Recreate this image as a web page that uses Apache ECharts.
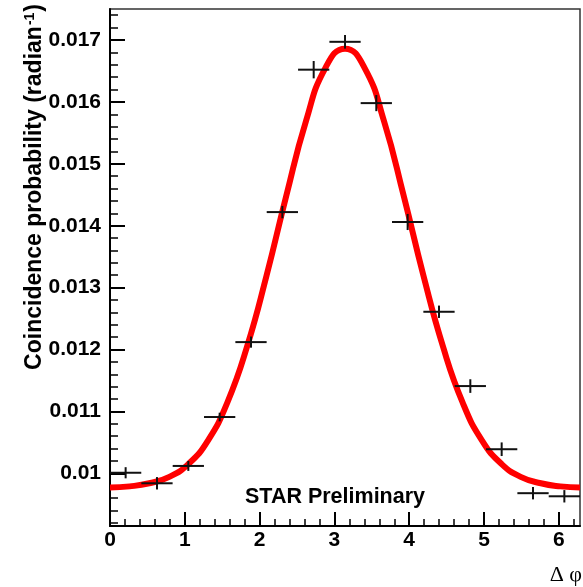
<!DOCTYPE html>
<html>
<head>
<meta charset="utf-8">
<script src="https://cdn.jsdelivr.net/npm/echarts@6/dist/echarts.min.js"></script>
<style>
  html, body { margin: 0; padding: 0; background: #fff; }
  #main { width: 583px; height: 587px; }
</style>
</head>
<body>
<div id="main"></div>
<script>
// bin centres of the measured points (delta phi, rad) and their values
const binCenters = [0.209, 0.628, 1.047, 1.466, 1.885, 2.304, 2.723, 3.142, 3.560, 3.979, 4.398, 4.817, 5.236, 5.655, 6.074];
const binHalfWidth = 0.209;
const probValues = [0.01001, 0.00984, 0.01012, 0.01091, 0.01212, 0.01422, 0.01652, 0.01697, 0.01598, 0.01406, 0.01261, 0.01141, 0.01039, 0.00968, 0.00963];
const probErrors = [0.00009, 0.0001, 0.00008, 0.00007, 0.00009, 0.0001, 0.00014, 0.00011, 0.00013, 0.00013, 0.0001, 0.00011, 0.00011, 0.0001, 0.0001];

// fitted curve, every pi/12
const curveX = [0, 0.262, 0.524, 0.785, 1.047, 1.309, 1.571, 1.833, 2.094, 2.356, 2.618, 2.880, 3.142,
  3.403, 3.665, 3.927, 4.189, 4.451, 4.712, 4.974, 5.236, 5.498, 5.760, 6.021, 6.283];
const curveY = [0.00977, 0.00979, 0.00984, 0.00994, 0.01015, 0.01053, 0.01115, 0.01205, 0.01320, 0.01448, 0.01568, 0.01655, 0.01686,
  0.01655, 0.01568, 0.01448, 0.01320, 0.01205, 0.01115, 0.01053, 0.01015, 0.00994, 0.00984, 0.00979, 0.00977];

// axis ticks
const xMajorTicks = [0, 1, 2, 3, 4, 5, 6];
const yMajorTicks = [0.010, 0.011, 0.012, 0.013, 0.014, 0.015, 0.016, 0.017];
const xMin = 0, xMax = 2 * Math.PI;
const yMin = 0.00915, yMax = 0.0175;

const xMinorTicks = [];
for (let i = 1; i <= 31; i++) {
  if (i % 5 !== 0) xMinorTicks.push(+(i * 0.2).toFixed(1));
}
const yMinorTicks = [];
for (let i = 46; i <= 87; i++) {
  if (i % 5 !== 0) yMinorTicks.push(+(i * 0.0002).toFixed(4));
}

var myChart = echarts.init(document.getElementById('main'));

const labelFont = {
  color: '#000',
  fontFamily: 'Liberation Sans',
  fontWeight: 'bold',
  fontSize: 21
};

const option = {
  backgroundColor: '#fff',
  animation: false,
  grid: {
    left: 110,
    right: 3,
    top: 9,
    bottom: 61,
    show: true,
    borderColor: '#333',
    borderWidth: 1.5
  },
  xAxis: [{
    type: 'value',
    min: xMin,
    max: xMax,
    axisLine: { show: true, onZero: false, lineStyle: { color: '#000', width: 2 } },
    axisTick: {
      show: true,
      inside: true,
      length: 14,
      customValues: xMajorTicks,
      lineStyle: { color: '#000', width: 2 }
    },
    axisLabel: Object.assign({
      margin: 4,
      customValues: xMajorTicks,
      formatter: v => String(v)
    }, labelFont),
    splitLine: { show: false }
  }, {
    type: 'value',
    position: 'bottom',
    min: xMin,
    max: xMax,
    axisLine: { show: false },
    axisTick: {
      show: true,
      inside: true,
      length: 7,
      customValues: xMinorTicks,
      lineStyle: { color: '#000', width: 1.5 }
    },
    axisLabel: { show: false },
    splitLine: { show: false }
  }],
  yAxis: [{
    type: 'value',
    min: yMin,
    max: yMax,
    axisLine: { show: true, onZero: false, lineStyle: { color: '#000', width: 2 } },
    axisTick: {
      show: true,
      inside: true,
      length: 15,
      customValues: yMajorTicks,
      lineStyle: { color: '#000', width: 2 }
    },
    axisLabel: Object.assign({
      margin: 9,
      customValues: yMajorTicks,
      formatter: v => v.toFixed(3).replace(/0+$/, '')
    }, labelFont),
    splitLine: { show: false }
  }, {
    type: 'value',
    position: 'left',
    min: yMin,
    max: yMax,
    axisLine: { show: false },
    axisTick: {
      show: true,
      inside: true,
      length: 8,
      customValues: yMinorTicks,
      lineStyle: { color: '#000', width: 1.5 }
    },
    axisLabel: { show: false },
    splitLine: { show: false }
  }],
  graphic: [{
    type: 'text',
    x: 35,
    y: 4,
    rotation: Math.PI / 2,
    style: {
      text: 'Coincidence probability (radian{sup|-1})',
      fill: '#000',
      font: 'bold 23px "Liberation Sans"',
      align: 'right',
      verticalAlign: 'middle',
      rich: {
        sup: {
          fill: '#000',
          font: 'bold 14px "Liberation Sans"',
          verticalAlign: 'top',
          padding: [0, 1, 10, 1]
        }
      }
    }
  }, {
    type: 'text',
    x: 245,
    y: 497,
    style: {
      text: 'STAR Preliminary',
      fill: '#000',
      font: 'bold 21.5px "Liberation Sans"',
      align: 'left',
      verticalAlign: 'middle'
    }
  }, {
    type: 'text',
    x: 582,
    y: 575,
    style: {
      text: 'Δ φ',
      fill: '#000',
      font: '22px "Liberation Serif"',
      align: 'right',
      verticalAlign: 'middle'
    }
  }],
  series: [{
    name: 'fit',
    type: 'line',
    xAxisIndex: 0,
    yAxisIndex: 0,
    smooth: true,
    showSymbol: false,
    z: 2,
    lineStyle: { color: '#ff0000', width: 6 },
    data: curveX.map((x, i) => [x, curveY[i]])
  }, {
    name: 'data',
    type: 'custom',
    xAxisIndex: 0,
    yAxisIndex: 0,
    z: 3,
    renderItem: function (params, api) {
      const x = api.value(0), y = api.value(1), ey = api.value(2);
      const l = api.coord([x - binHalfWidth, y]);
      const r = api.coord([x + binHalfWidth, y]);
      const t = api.coord([x, y + ey]);
      const b = api.coord([x, y - ey]);
      const st = { stroke: '#111', lineWidth: 2 };
      return {
        type: 'group',
        children: [
          { type: 'line', shape: { x1: l[0], y1: l[1], x2: r[0], y2: r[1] }, style: st },
          { type: 'line', shape: { x1: t[0], y1: t[1], x2: b[0], y2: b[1] }, style: st }
        ]
      };
    },
    encode: { x: 0, y: 1 },
    data: binCenters.map((x, i) => [x, probValues[i], probErrors[i]])
  }]
};

myChart.setOption(option);
</script>
</body>
</html>
